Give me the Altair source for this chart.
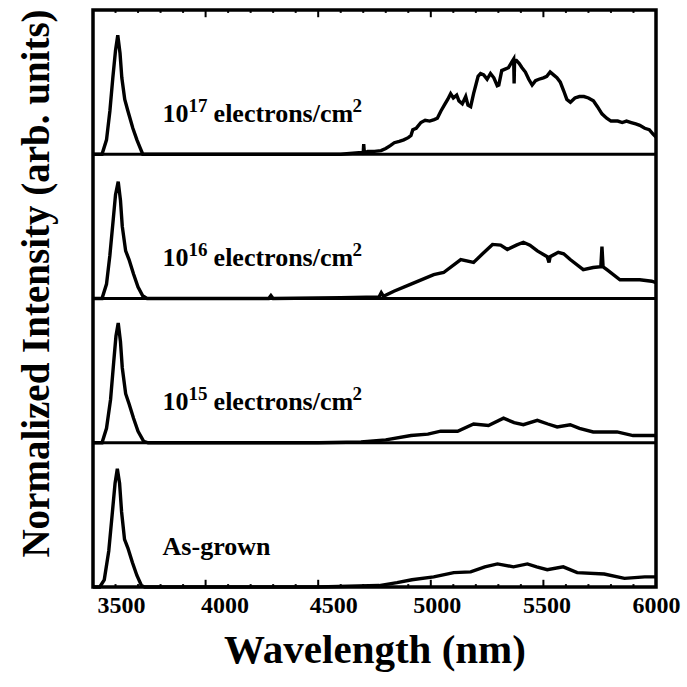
import altair as alt
import pandas as pd

# ---- data (wavelength, normalized intensity within panel) ----
wl_17 = [3500, 3540, 3560, 3575, 3588, 3600, 3610, 3620, 3628, 3641, 3655, 3677, 3695, 3708, 3721, 3760,
         4600, 4680, 4700, 4702, 4705, 4720, 4750, 4779, 4800, 4820, 4838, 4860, 4880, 4900, 4912, 4920,
         4935, 4956, 4975, 4995, 5015, 5029, 5045, 5060, 5075, 5088, 5100, 5115, 5125, 5140, 5155, 5165,
         5177, 5190, 5200, 5210, 5221, 5235, 5250, 5265, 5280, 5295, 5302, 5315, 5330, 5345, 5360, 5368,
         5370, 5372, 5380, 5392, 5405, 5420, 5435, 5450, 5465, 5480, 5500, 5515, 5530, 5545, 5560, 5575,
         5590, 5604, 5620, 5640, 5660, 5680, 5700, 5722, 5740, 5760, 5781, 5800, 5830, 5850, 5869, 5890,
         5910, 5928, 5950, 5970, 5987, 6000]
in_17 = [0.0, 0.0, 0.10, 0.30, 0.53, 0.72, 0.825, 0.70, 0.53, 0.38, 0.30, 0.18, 0.10, 0.05, 0.0, 0.0,
         0.0, 0.01, 0.01, 0.07, 0.01, 0.02, 0.02, 0.025, 0.04, 0.06, 0.08, 0.09, 0.10, 0.115, 0.13, 0.17,
         0.18, 0.22, 0.235, 0.23, 0.24, 0.25, 0.30, 0.34, 0.38, 0.42, 0.39, 0.41, 0.37, 0.35, 0.40, 0.34,
         0.33, 0.42, 0.48, 0.54, 0.56, 0.55, 0.52, 0.56, 0.53, 0.475, 0.48, 0.58, 0.59, 0.60, 0.64, 0.66,
         0.49, 0.65, 0.65, 0.63, 0.60, 0.57, 0.52, 0.48, 0.51, 0.52, 0.53, 0.54, 0.57, 0.55, 0.53, 0.50,
         0.44, 0.38, 0.36, 0.39, 0.40, 0.40, 0.39, 0.37, 0.33, 0.28, 0.25, 0.23, 0.23, 0.22, 0.23, 0.22,
         0.21, 0.20, 0.18, 0.17, 0.14, 0.12]

wl_16 = [3500, 3540, 3560, 3575, 3590, 3600, 3612, 3622, 3630, 3645, 3660, 3680, 3700, 3720, 3740,
         4280, 4290, 4300, 4600, 4770, 4780, 4790, 4836, 4912, 5013, 5057, 5133, 5190, 5230, 5274, 5310,
         5340, 5380, 5411, 5440, 5473, 5517, 5525, 5530, 5566, 5590, 5619, 5677, 5721, 5755, 5760, 5765,
         5782, 5840, 5928, 5981, 6000]
in_16 = [0.0, 0.0, 0.10, 0.30, 0.55, 0.72, 0.81, 0.68, 0.50, 0.33, 0.27, 0.17, 0.08, 0.02, 0.0,
         0.0, 0.02, 0.0, 0.005, 0.01, 0.04, 0.015, 0.05, 0.10, 0.165, 0.18, 0.27, 0.25, 0.31, 0.375, 0.37,
         0.34, 0.37, 0.39, 0.37, 0.33, 0.29, 0.25, 0.29, 0.32, 0.31, 0.27, 0.20, 0.215, 0.22, 0.36, 0.22,
         0.20, 0.13, 0.13, 0.12, 0.11]

wl_15 = [3500, 3540, 3560, 3578, 3592, 3602, 3612, 3622, 3630, 3645, 3660, 3680, 3700, 3725, 3745,
         4500, 4690, 4800, 4912, 4987, 5044, 5119, 5190, 5256, 5323, 5370, 5411, 5473, 5520, 5561, 5619,
         5660, 5721, 5827, 5898, 5981, 6000]
in_15 = [0.0, 0.0, 0.10, 0.30, 0.56, 0.74, 0.83, 0.70, 0.52, 0.34, 0.27, 0.17, 0.08, 0.01, 0.0,
         0.0, 0.005, 0.02, 0.05, 0.06, 0.08, 0.08, 0.13, 0.12, 0.17, 0.14, 0.125, 0.155, 0.13, 0.11, 0.125,
         0.10, 0.075, 0.075, 0.05, 0.05, 0.05]

wl_ag = [3500, 3530, 3550, 3570, 3585, 3598, 3608, 3618, 3627, 3640, 3655, 3675, 3695, 3715, 3730,
         4500, 4770, 4850, 4916, 5013, 5102, 5177, 5240, 5296, 5367, 5429, 5470, 5517, 5588, 5650, 5770,
         5860, 5950, 6000]
in_ag = [0.0, 0.0, 0.05, 0.25, 0.50, 0.72, 0.82, 0.72, 0.52, 0.33, 0.27, 0.17, 0.08, 0.01, 0.0,
         0.0, 0.01, 0.03, 0.05, 0.07, 0.10, 0.105, 0.14, 0.16, 0.14, 0.16, 0.14, 0.12, 0.14, 0.10, 0.09,
         0.06, 0.07, 0.07]

panel_names = ["1e17", "1e16", "1e15", "As-grown"]
panel_offsets = [3, 2, 1, 0]
dose_base = ["10", "10", "10"]
dose_exp = ["17", "16", "15"]
dose_unit = ["electrons/cm", "electrons/cm", "electrons/cm"]
dose_unit_exp = ["2", "2", "2"]
asgrown_label = ["As-grown"]
x_ticks = [3500, 4000, 4500, 5000, 5500, 6000]
minor_ticks = [3600, 3700, 3800, 3900, 4100, 4200, 4300, 4400, 4600, 4700, 4800, 4900,
               5100, 5200, 5300, 5400, 5600, 5700, 5800, 5900]
label_x = 3809
label_y = 0.28

FONT = "Liberation Serif"

rows = []
for name, off, wl, iv in zip(panel_names, panel_offsets,
                             [wl_17, wl_16, wl_15, wl_ag], [in_17, in_16, in_15, in_ag]):
    for w, v in zip(wl, iv):
        rows.append({"panel": name, "wl": w, "y": v + off})
df = pd.DataFrame(rows)

dose_df = pd.DataFrame({"base": dose_base, "exp": dose_exp, "unit": dose_unit,
                        "uexp": dose_unit_exp, "x": [label_x] * 3,
                        "y": [o + label_y for o in panel_offsets[:3]]})
ag_df = pd.DataFrame({"label": asgrown_label, "x": [label_x],
                      "y": [panel_offsets[3] + label_y]})
div_df = pd.DataFrame({"y": [1, 2, 3]})

tick_rows = []
for t in x_ticks[1:-1]:
    tick_rows.append({"x": t, "y": 0.0, "y2": 0.05})
    tick_rows.append({"x": t, "y": 4.0, "y2": 3.95})
for t in minor_ticks:
    tick_rows.append({"x": t, "y": 0.0, "y2": 0.02})
    tick_rows.append({"x": t, "y": 4.0, "y2": 3.98})
tick_df = pd.DataFrame(tick_rows)

xscale = alt.Scale(domain=[3500, 6000], nice=False, zero=False)
yscale = alt.Scale(domain=[0, 4], nice=False, zero=False)

x_axis = alt.Axis(values=x_ticks, format="d", ticks=False, domain=False, grid=False,
                  labelFont=FONT, labelFontWeight="bold", labelFontSize=24, labelColor="black",
                  labelPadding=6, labelFlush=False,
                  labelOffset=alt.ExprRef(expr="datum.value == 3500 ? 28 : datum.value == 4000 ? 19 : datum.value == 4500 ? 15 : datum.value == 5000 ? 6 : datum.value == 5500 ? 3 : 0"),
                  title="Wavelength (nm)", titleFont=FONT, titleFontWeight="bold",
                  titleFontSize=41, titleColor="black", titleY=63, titleBaseline="middle")
y_axis = alt.Axis(labels=False, ticks=False, domain=False, grid=False,
                  title="Normalized Intensity (arb. units)", titleFont=FONT,
                  titleFontWeight="bold", titleFontSize=39, titleColor="black",
                  titleX=-57, titleY=273, titleAngle=270, titleAlign="center",
                  titleBaseline="middle")

lines = alt.Chart(df).mark_line(color="black", strokeWidth=3.4, strokeJoin="miter").encode(
    x=alt.X("wl:Q", scale=xscale, axis=x_axis),
    y=alt.Y("y:Q", scale=yscale, axis=y_axis),
    detail="panel:N",
    order="wl:Q",
)

dividers = alt.Chart(div_df).mark_rule(color="black", strokeWidth=3).encode(
    y=alt.Y("y:Q", scale=yscale),
    x=alt.value(0),
    x2=alt.value(563),
)

ticks = alt.Chart(tick_df).mark_rule(color="black", strokeWidth=2).encode(
    x=alt.X("x:Q", scale=xscale),
    y=alt.Y("y:Q", scale=yscale),
    y2="y2:Q",
)

BASE = 26
SUP = 19
txt = dict(align="left", baseline="middle", font=FONT, fontWeight="bold", color="black")

def text_layer(data, field, size, dx, dy):
    return alt.Chart(data).mark_text(fontSize=size, dx=dx, dy=dy, **txt).encode(
        x=alt.X("x:Q", scale=xscale),
        y=alt.Y("y:Q", scale=yscale),
        text=f"{field}:N",
    )

t_base = text_layer(dose_df, "base", BASE, 0, 0)
t_exp = text_layer(dose_df, "exp", SUP, 26, -8)
t_unit = text_layer(dose_df, "unit", BASE, 51, 0)
t_uexp = text_layer(dose_df, "uexp", SUP, 190, -8)
t_ag = text_layer(ag_df, "label", BASE, 0, 0)

chart = alt.layer(lines, dividers, ticks, t_base, t_exp, t_unit, t_uexp, t_ag).properties(
    width=563, height=577,
    autosize=alt.AutoSizeParams(type="none"),
    padding={"left": 93, "top": 10, "right": 31, "bottom": 100},
    background="white",
).configure_view(stroke="black", strokeWidth=3.5)

chart.save("out.html", embed_options={"renderer": "svg", "actions": False})
